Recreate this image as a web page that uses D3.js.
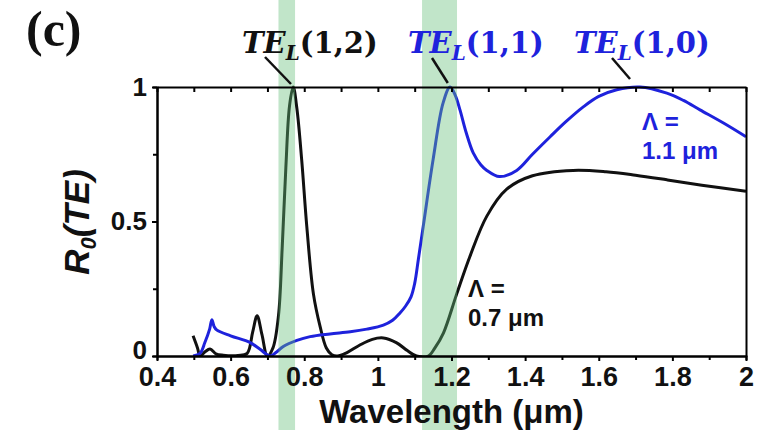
<!DOCTYPE html>
<html lang="en">
<head>
	<meta charset="UTF-8">
	<script src="https://cdn.jsdelivr.net/npm/d3@7"></script>
	<title>R0(TE) vs wavelength</title>
</head>
<style>
	body {
		margin: 0;
		background: #fff;
	}

	.axis path,
	.axis line {
		stroke: #000;
		stroke-width: 2;
	}

	.axis text {
		font-family: "Liberation Sans", Arial, sans-serif;
		font-weight: bold;
		fill: #111;
	}
</style>
<body>
	<svg id="chart" width="766" height="430"></svg>
	<script>
		// Λ = 0.7 µm curve (black)
		const wlBlack = [0.498, 0.51, 0.517, 0.53, 0.544, 0.56, 0.58, 0.62, 0.645, 0.66, 0.672, 0.685, 0.70, 0.715,
			0.73, 0.74, 0.75, 0.76, 0.77, 0.78, 0.793, 0.807, 0.825, 0.843, 0.86, 0.875, 0.89, 0.915, 0.95, 0.985,
			1.015, 1.05, 1.08, 1.105, 1.137, 1.155, 1.178, 1.214, 1.25, 1.296, 1.35, 1.42, 1.53, 1.62, 1.70, 1.785,
			1.88, 2.0];
		const rBlack = [0.075, 0.03, 0.0, 0.015, 0.026, 0.008, 0.003, 0.002, 0.01, 0.09, 0.15, 0.08, 0.0, 0.03,
			0.15, 0.40, 0.70, 0.93, 1.0, 0.92, 0.73, 0.48, 0.23, 0.11, 0.03, 0.005, 0.0, 0.012, 0.04, 0.062,
			0.067, 0.05, 0.02, 0.0, 0.0, 0.03, 0.085, 0.23, 0.37, 0.52, 0.62, 0.67, 0.69, 0.685, 0.672, 0.655,
			0.635, 0.612];

		// Λ = 1.1 µm curve (blue)
		const wlBlue = [0.498, 0.517, 0.53, 0.543, 0.549, 0.555, 0.562, 0.60, 0.653, 0.68, 0.707, 0.725, 0.743,
			0.78, 0.816, 0.87, 0.925, 0.97, 1.015, 1.04, 1.06, 1.075, 1.09, 1.10, 1.11, 1.123, 1.15, 1.177, 1.196,
			1.21, 1.223, 1.24, 1.259, 1.28, 1.296, 1.33, 1.377, 1.42, 1.468, 1.51, 1.558, 1.60, 1.649, 1.712,
			1.785, 1.83, 1.875, 1.94, 2.0];
		const rBlue = [0.0, 0.01, 0.05, 0.10, 0.135, 0.11, 0.097, 0.075, 0.05, 0.025, 0.0, 0.015, 0.035,
			0.058, 0.072, 0.082, 0.09, 0.10, 0.115, 0.133, 0.16, 0.185, 0.22, 0.27, 0.36, 0.48, 0.73, 0.94, 1.0,
			0.97, 0.915, 0.83, 0.755, 0.71, 0.69, 0.667, 0.69, 0.75, 0.815, 0.87, 0.926, 0.965, 0.99, 1.0,
			0.977, 0.95, 0.915, 0.865, 0.815];

		// highlighted wavelength bands (µm)
		const bands = [[0.73, 0.775], [1.12, 1.215]];

		// mode labels and where their leader lines point (µm)
		const modeNames = ["(1,2)", "(1,1)", "(1,0)"];
		const modeWl = [0.764, 1.19, 1.685];

		const xTicksMajor = [0.4, 0.6, 0.8, 1.0, 1.2, 1.4, 1.6, 1.8, 2.0];
		const xTicksMinor = [0.5, 0.7, 0.9, 1.1, 1.3, 1.5, 1.7, 1.9];
		const yTicksMajor = [0, 0.5, 1];
		const yTicksMinor = [0.25, 0.75];

		const width = 766;
		const height = 430;
		const margin = { top: 87, right: 20, bottom: 74, left: 157 };
		const blue = "#1e22dc";

		const svg = d3.select("#chart");

		const x = d3.scaleLinear().domain([0.4, 2]).range([margin.left, width - margin.right]);
		const y = d3.scaleLinear().domain([0, 1]).range([height - margin.bottom, margin.top]);

		svg.append("clipPath").attr("id", "plot-clip")
			.append("rect")
			.attr("x", x(0.4)).attr("y", y(1) - 3)
			.attr("width", x(2) - x(0.4)).attr("height", y(0) - y(1) + 3);

		const line = d3.line()
			.x(d => x(d[0]))
			.y(d => y(d[1]))
			.curve(d3.curveCatmullRom.alpha(0.5));

		const plot = svg.append("g").attr("clip-path", "url(#plot-clip)");

		plot.append("path")
			.datum(d3.zip(wlBlack, rBlack))
			.attr("d", line)
			.attr("fill", "none")
			.attr("stroke", "#111")
			.attr("stroke-width", 3);

		plot.append("path")
			.datum(d3.zip(wlBlue, rBlue))
			.attr("d", line)
			.attr("fill", "none")
			.attr("stroke", blue)
			.attr("stroke-width", 3);

		// green bands go over the curves, full height of the figure
		svg.selectAll(".band")
			.data(bands)
			.enter()
			.append("rect")
			.attr("class", "band")
			.attr("x", d => x(d[0]))
			.attr("width", d => x(d[1]) - x(d[0]))
			.attr("y", 0)
			.attr("height", height)
			.attr("fill", "rgb(100,190,120)")
			.attr("opacity", 0.4);

		// axes
		const fmt = d => String(+d.toFixed(1));

		svg.append("g").attr("class", "axis")
			.attr("transform", `translate(0,${y(0)})`)
			.call(d3.axisBottom(x).tickValues(xTicksMinor).tickSize(4).tickFormat(""));
		svg.append("g").attr("class", "axis")
			.attr("transform", `translate(0,${y(0)})`)
			.call(d3.axisBottom(x).tickValues(xTicksMajor).tickSize(5).tickSizeOuter(0).tickPadding(6).tickFormat(fmt))
			.selectAll("text").attr("font-size", 27);

		svg.append("g").attr("class", "axis")
			.attr("transform", `translate(0,${y(1)})`)
			.call(d3.axisBottom(x).tickValues(xTicksMajor.concat(xTicksMinor)).tickSize(5).tickSizeOuter(0).tickFormat(""));

		svg.append("g").attr("class", "axis")
			.attr("transform", `translate(${x(0.4)},0)`)
			.call(d3.axisLeft(y).tickValues(yTicksMinor).tickSize(4).tickFormat(""));
		svg.append("g").attr("class", "axis")
			.attr("transform", `translate(${x(0.4)},0)`)
			.call(d3.axisLeft(y).tickValues(yTicksMajor).tickSize(5).tickSizeOuter(0).tickPadding(5).tickFormat(fmt))
			.selectAll("text")
			.attr("font-size", 26)
			.attr("dy", d => d === 0 ? "0.1em" : "0.32em");

		svg.append("g").attr("class", "axis")
			.attr("transform", `translate(${x(2)},0)`)
			.call(d3.axisRight(y).tickValues([]).tickSizeOuter(0));

		// axis titles
		svg.append("text")
			.attr("x", (x(0.4) + x(2)) / 2)
			.attr("y", 423)
			.attr("text-anchor", "middle")
			.attr("font-family", "Liberation Sans, Arial, sans-serif")
			.attr("font-weight", "bold")
			.attr("font-size", 33)
			.attr("fill", "#111")
			.text("Wavelength (\u03bcm)");

		const yTitle = svg.append("text")
			.attr("transform", "translate(89,222) rotate(-90)")
			.attr("text-anchor", "middle")
			.attr("font-family", "Liberation Sans, Arial, sans-serif")
			.attr("font-weight", "bold")
			.attr("font-style", "italic")
			.attr("font-size", 35)
			.attr("fill", "#111");
		yTitle.append("tspan").text("R");
		yTitle.append("tspan").attr("font-size", 22).attr("dy", 7).text("0");
		yTitle.append("tspan").attr("dy", -7).text("(TE)");

		// panel letter
		svg.append("text")
			.attr("x", 26).attr("y", 46)
			.attr("font-family", "Liberation Serif, Times New Roman, serif")
			.attr("font-weight", "bold")
			.attr("font-size", 50)
			.attr("fill", "#111")
			.text("(c)");

		// mode labels with leader lines
		const labelX = [242, 408, 574];
		const leaderStart = [[265, 57], [432, 58], [612, 58]];
		const leaderGap = [3, 4, 8];
		const labelColor = ["#111", blue, blue];

		modeNames.forEach((name, i) => {
			const t = svg.append("text")
				.attr("x", labelX[i]).attr("y", 53)
				.attr("font-family", "DejaVu Serif, serif")
				.attr("font-weight", "bold")
				.attr("font-size", 29)
				.attr("fill", labelColor[i]);
			t.append("tspan").attr("font-style", "italic").text("TE");
			t.append("tspan").attr("font-style", "italic").attr("font-size", 20).attr("dy", 7).text("L");
			t.append("tspan").attr("dy", -7).text(name);

			svg.append("line")
				.attr("x1", leaderStart[i][0]).attr("y1", leaderStart[i][1])
				.attr("x2", x(modeWl[i])).attr("y2", y(1) - leaderGap[i])
				.attr("stroke", "#111")
				.attr("stroke-width", 2.5);
		});

		// period labels
		const periodLabels = [
			{ lines: ["\u039b =", "1.1 \u03bcm"], x: 642, y: 130, color: blue },
			{ lines: ["\u039b =", "0.7 \u03bcm"], x: 468, y: 297, color: "#111" }
		];
		periodLabels.forEach(p => {
			p.lines.forEach((s, k) => {
				svg.append("text")
					.attr("x", p.x).attr("y", p.y + k * 29)
					.attr("font-family", "Liberation Sans, Arial, sans-serif")
					.attr("font-weight", "bold")
					.attr("font-size", 24)
					.attr("fill", p.color)
					.text(s);
			});
		});
	</script>
</body>
</html>
